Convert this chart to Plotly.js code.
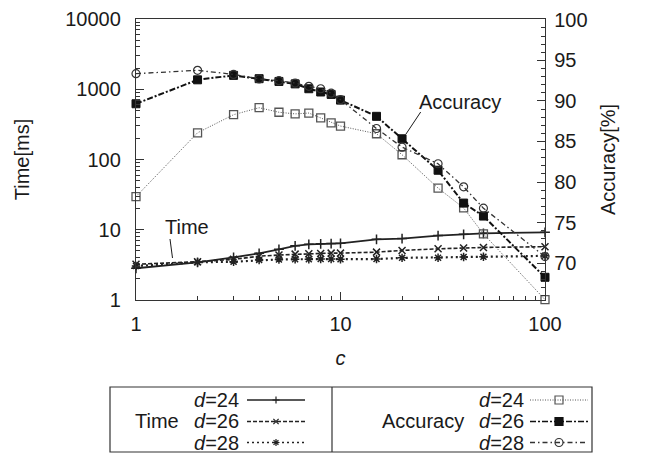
<!DOCTYPE html>
<html>
<head>
<meta charset="utf-8">
<script src="https://cdn.plot.ly/plotly-3.0.1.min.js"></script>
<style>html,body{margin:0;padding:0;background:#fff}#chart{width:649px;height:455px}</style>
</head>
<body>
<div id="chart"></div>
<script>
// ---- data ----
const cValues = [1, 2, 3, 4, 5, 6, 7, 8, 9, 10, 15, 20, 30, 40, 50, 100];
const timeD24 = [2.83, 3.44, 4.05, 4.62, 5.26, 5.9, 6.2, 6.3, 6.35, 6.4, 7.3, 7.5, 8.25, 8.6, 8.9, 9.2];
const timeD26 = [3.22, 3.51, 3.79, 4.2, 4.37, 4.5, 4.55, 4.6, 4.65, 4.65, 4.8, 5.08, 5.35, 5.5, 5.6, 5.74];
const timeD28 = [3.05, 3.44, 3.51, 3.71, 3.78, 3.8, 3.8, 3.82, 3.83, 3.8, 3.83, 3.98, 4.0, 4.1, 4.12, 4.25];
const accD24 = [78.2, 86.07, 88.3, 89.16, 88.6, 88.4, 88.5, 87.9, 87.3, 86.9, 85.95, 83.36, 79.25, 76.8, 73.6, 65.5];
const accD26 = [89.65, 92.6, 93.15, 92.74, 92.4, 92.1, 91.5, 91.1, 90.8, 90.1, 88.1, 85.33, 81.45, 77.4, 75.8, 68.25];
const accD28 = [93.36, 93.77, 93.27, 92.7, 92.5, 92.2, 91.8, 91.5, 90.95, 90.15, 86.6, 84.3, 82.25, 79.4, 76.77, 70.8];
const seriesNames = ['d=24', 'd=26', 'd=28'];
const yTickVals = [1, 10, 100, 1000, 10000];
const yTickText = ['1', '10', '100', '1000', '10000'];
const y2TickVals = [70, 75, 80, 85, 90, 95, 100];
const xTickVals = [1, 10, 100];
const xTickText = ['1', '10', '100'];

const FONT = '"Liberation Sans", Arial, Helvetica, sans-serif';
const INK = '#1a1a1a';

function tr(y, axis, name, sym, dash, width, color, msize, mline, mcolor) {
  return {
    x: cValues, y: y, yaxis: axis, name: name, type: 'scatter', mode: 'lines+markers',
    cliponaxis: false, showlegend: false,
    line: {color: color, width: width, dash: dash},
    marker: {symbol: sym, size: msize, color: mcolor || color, line: {color: color, width: mline}}
  };
}

const data = [
  tr(timeD24, 'y', 'Time d=24', 'cross-thin-open', 'solid', 1.8, '#222', 7, 1.5),
  tr(timeD26, 'y', 'Time d=26', 'x-thin-open', '4px,2px', 1.6, '#222', 7, 1.5),
  tr(timeD28, 'y', 'Time d=28', 'asterisk-open', '2px,3px', 2.2, '#222', 7, 1.5),
  tr(accD24, 'y2', 'Accuracy d=24', 'square-open', '1px,1.5px', 1, '#555', 8, 1.3),
  tr(accD26, 'y2', 'Accuracy d=26', 'square', '6px,2px,2px,2px', 2, '#111', 8, 1),
  tr(accD28, 'y2', 'Accuracy d=28', 'circle-open', '5px,3px,1.5px,3px', 1.3, '#333', 8, 1.2)
];

// plot area in px: x 136..545, y 19..300
const PL = 136, PR = 545, PT = 19, PB = 300;
const px = v => (v - PL) / (PR - PL);
const py = v => (PB - v) / (PB - PT);

const shapes = [];
const annotations = [];

// pointer lines for in-plot labels
shapes.push({type: 'line', xref: 'paper', yref: 'paper', x0: px(170), y0: py(239), x1: px(172.5), y1: py(258), line: {color: INK, width: 1}});
shapes.push({type: 'line', xref: 'paper', yref: 'paper', x0: px(420.7), y0: py(112), x1: px(406), y1: py(134), line: {color: INK, width: 1}});
annotations.push({xref: 'paper', yref: 'paper', x: px(187), y: py(227), xanchor: 'center', yanchor: 'middle', text: 'Time', showarrow: false, font: {family: FONT, size: 20, color: INK}});
annotations.push({xref: 'paper', yref: 'paper', x: px(460), y: py(102), xanchor: 'center', yanchor: 'middle', text: 'Accuracy', showarrow: false, font: {family: FONT, size: 20, color: INK}});

// custom legend
const LB = {l: 110, r: 592, t: 387, b: 452, mid: 332};
shapes.push({type: 'rect', xref: 'paper', yref: 'paper', x0: px(LB.l), x1: px(LB.r), y0: py(LB.t), y1: py(LB.b), line: {color: '#333', width: 1.2}});
shapes.push({type: 'line', xref: 'paper', yref: 'paper', x0: px(LB.mid), x1: px(LB.mid), y0: py(LB.t), y1: py(LB.b), line: {color: '#333', width: 1.2}});
const rowsY = [400, 421.5, 442.5];
const cols = [
  {group: 'Time', groupRight: 181, textRight: 241, s0: 247, s1: 305, traces: [0, 1, 2]},
  {group: 'Accuracy', groupRight: 466, textRight: 526, s0: 530, s1: 588, traces: [3, 4, 5]}
];
function markerShape(sym, cx, cy, color, lw) {
  const base = {xref: 'paper', yref: 'paper', xsizemode: 'pixel', ysizemode: 'pixel', xanchor: px(cx), yanchor: py(cy), line: {color: color, width: lw}};
  const r = 3.5;
  if (sym === 'cross-thin-open') return [Object.assign({}, base, {type: 'path', path: `M${-r},0L${r},0M0,${-r}L0,${r}`})];
  if (sym === 'x-thin-open') return [Object.assign({}, base, {type: 'path', path: `M${-r*0.75},${-r*0.75}L${r*0.75},${r*0.75}M${-r*0.75},${r*0.75}L${r*0.75},${-r*0.75}`})];
  if (sym === 'asterisk-open') return [Object.assign({}, base, {type: 'path', path: `M${-r},0L${r},0M0,${-r}L0,${r}M${-r*0.7},${-r*0.7}L${r*0.7},${r*0.7}M${-r*0.7},${r*0.7}L${r*0.7},${-r*0.7}`})];
  if (sym === 'square-open') return [Object.assign({}, base, {type: 'rect', x0: -4, x1: 4, y0: -4, y1: 4, fillcolor: 'rgba(0,0,0,0)'})];
  if (sym === 'square') return [Object.assign({}, base, {type: 'rect', x0: -4, x1: 4, y0: -4, y1: 4, fillcolor: color})];
  return [Object.assign({}, base, {type: 'circle', x0: -4, x1: 4, y0: -4, y1: 4, fillcolor: 'rgba(0,0,0,0)'})];
}
cols.forEach(col => {
  annotations.push({xref: 'paper', yref: 'paper', x: px(col.groupRight), y: py(rowsY[1]), xanchor: 'right', yanchor: 'middle', text: col.group, showarrow: false, font: {family: FONT, size: 20, color: INK}});
  col.traces.forEach((ti, k) => {
    const t = data[ti];
    annotations.push({xref: 'paper', yref: 'paper', x: px(col.textRight), y: py(rowsY[k]), xanchor: 'right', yanchor: 'middle', text: '<i>d</i>=' + seriesNames[k].split('=')[1], showarrow: false, font: {family: FONT, size: 20, color: INK}});
    shapes.push({type: 'line', xref: 'paper', yref: 'paper', x0: px(col.s0), x1: px(col.s1), y0: py(rowsY[k]), y1: py(rowsY[k]), line: {color: t.line.color, width: Math.min(t.line.width, 1.5), dash: t.line.dash}});
    markerShape(t.marker.symbol, (col.s0 + col.s1) / 2, rowsY[k], t.line.color, 1.2).forEach(s => shapes.push(s));
  });
});

const axisFont = {family: FONT, size: 20, color: INK};
const layout = {
  width: 649, height: 455,
  margin: {l: PL, r: 649 - PR, t: PT, b: 455 - PB, pad: 0},
  paper_bgcolor: '#fff', plot_bgcolor: '#fff',
  font: {family: FONT, size: 20, color: INK},
  showlegend: false,
  xaxis: {
    type: 'log', range: [0, 2], tickvals: xTickVals, ticktext: xTickText,
    ticks: 'inside', ticklen: 8, tickwidth: 1, tickcolor: '#333',
    minor: {ticks: 'inside', ticklen: 4, tickwidth: 1, tickcolor: '#333', dtick: 'D1'},
    showline: true, linecolor: '#333', linewidth: 1.2, mirror: true,
    showgrid: false, zeroline: false, tickfont: axisFont, ticklabelstandoff: 6,
    title: {text: '<i>c</i>', font: axisFont, standoff: 16}
  },
  xaxis2: {
    type: 'log', range: [0, 2], overlaying: 'x', side: 'top', anchor: 'y',
    tickvals: xTickVals, showticklabels: false,
    ticks: 'inside', ticklen: 8, tickwidth: 1, tickcolor: '#333',
    minor: {ticks: 'inside', ticklen: 4, tickwidth: 1, tickcolor: '#333', dtick: 'D1'},
    showline: false, showgrid: false, zeroline: false
  },
  yaxis: {
    type: 'log', range: [0, 4], tickvals: yTickVals, ticktext: yTickText,
    ticks: 'inside', ticklen: 8, tickwidth: 1, tickcolor: '#333',
    minor: {ticks: 'inside', ticklen: 4, tickwidth: 1, tickcolor: '#333', dtick: 'D1'},
    showline: true, linecolor: '#333', linewidth: 1.2, mirror: false,
    showgrid: false, zeroline: false, tickfont: axisFont, ticklabelstandoff: 10,
    title: {text: 'Time[ms]', font: axisFont, standoff: 30}
  },
  yaxis2: {
    overlaying: 'y', side: 'right', range: [65.45, 100.1], tickvals: y2TickVals,
    ticks: 'inside', ticklen: 8, tickwidth: 1, tickcolor: '#333',
    minor: {ticks: 'inside', ticklen: 4, tickwidth: 1, tickcolor: '#333', dtick: 1},
    showline: true, linecolor: '#333', linewidth: 1.2,
    showgrid: false, zeroline: false, tickfont: axisFont, ticklabelstandoff: 4,
    title: {text: 'Accuracy[%]', font: axisFont, standoff: 14}
  },
  shapes: shapes,
  annotations: annotations
};

Plotly.newPlot('chart', data, layout, {staticPlot: true, displayModeBar: false});
</script>
</body>
</html>
